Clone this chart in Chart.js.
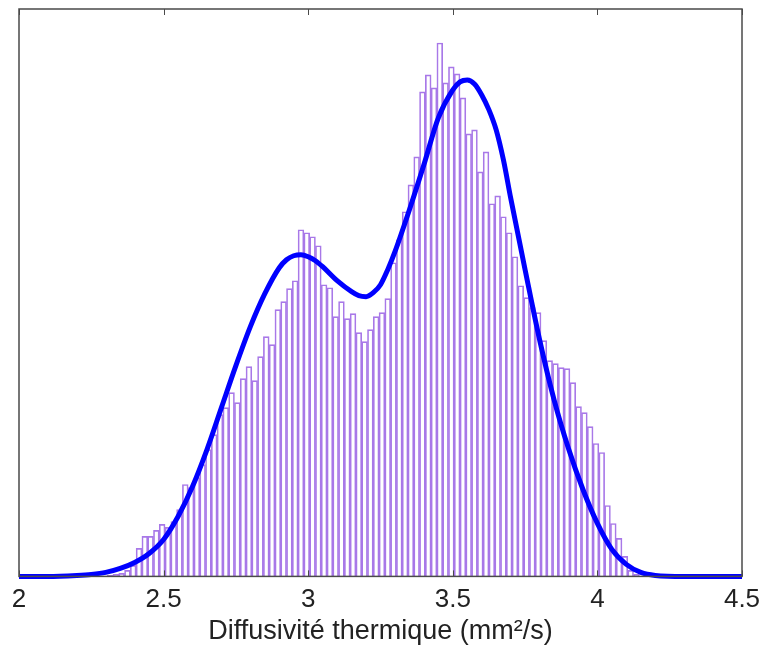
<!DOCTYPE html>
<html>
<head>
<meta charset="utf-8">
<script src="https://cdn.jsdelivr.net/npm/chart.js@4"></script>
<style>
  html, body { margin: 0; padding: 0; background: #fff; }
  #wrap { width: 764px; height: 651px; }
</style>
</head>
<body>
<div id="wrap"><canvas id="histChart"></canvas></div>
<script>
// Histogram bins (centres, mm²/s) and bar heights
const binStart = 2.315
const binWidth = 0.02
const binCounts = [
  1, 2, 3, 6, 11, 28, 40, 40, 46, 52,
  49, 55, 67, 92, 89, 99, 112, 127, 142, 162,
  169, 184, 174, 198, 210, 196, 220, 240, 232, 267,
  275, 288, 296, 347, 344, 340, 331, 292, 289, 260,
  275, 258, 263, 244, 235, 247, 260, 264, 278, 314,
  337, 365, 392, 420, 485, 502, 489, 534, 494, 510,
  503, 479, 443, 447, 405, 425, 373, 381, 360, 344,
  320, 291, 279, 269, 264, 236, 216, 213, 209, 208,
  194, 170, 164, 150, 133, 124, 71, 53, 38, 20,
  6, 2,
]
const binCenters = binCounts.map((_, i) => +(binStart + i * binWidth).toFixed(3))

// Fitted density curve, sampled along x
const curveX = [
  2.0, 2.1, 2.2, 2.25, 2.3, 2.35, 2.4, 2.45, 2.5, 2.55,
  2.6, 2.65, 2.7, 2.75, 2.8, 2.85, 2.9, 2.925, 2.95, 2.975,
  3.0, 3.025, 3.05, 3.1, 3.15, 3.175, 3.2, 3.225, 3.25, 3.275,
  3.3, 3.35, 3.4, 3.45, 3.5, 3.525, 3.55, 3.575, 3.6, 3.625,
  3.65, 3.675, 3.7, 3.75, 3.8, 3.85, 3.9, 3.95, 4.0, 4.05,
  4.1, 4.15, 4.2, 4.3, 4.4, 4.5,
]
const curveY = [
  0, 0, 1, 2, 4, 8, 14, 23, 37, 60,
  90, 127, 169, 211, 250, 283, 309, 317, 321, 322,
  320, 316, 310, 296, 285, 281, 280, 284, 292, 307,
  325, 367, 412, 459, 487, 495, 497, 493, 482, 467,
  447, 417, 379, 307, 237, 177, 128, 87, 53, 27,
  12, 4, 1, 0, 0, 0,
]

// Axis ticks
const xTicks = [2, 2.5, 3, 3.5, 4, 4.5]
const xTitle = "Diffusivité thermique (mm²/s)"

const FONT = "'Liberation Sans', Arial, sans-serif"

// box around the plot and MATLAB-style inward ticks
const framePlugin = {
  id: "frame",
  afterDatasetsDraw(chart) {
    const { ctx, chartArea: a, scales } = chart
    const x = scales.x
    ctx.save()
    ctx.strokeStyle = "#4a4a4a"
    ctx.lineWidth = 1.5
    ctx.strokeRect(a.left, a.top, a.right - a.left, a.bottom - a.top)
    ctx.lineWidth = 1
    ctx.beginPath()
    xTicks.forEach((v) => {
      const px = Math.round(x.getPixelForValue(v)) + 0.5
      ctx.moveTo(px, a.bottom)
      ctx.lineTo(px, a.bottom - 6)
      ctx.moveTo(px, a.top)
      ctx.lineTo(px, a.top + 6)
    })
    ctx.stroke()
    ctx.restore()
  },
}

new Chart(document.getElementById("histChart"), {
  type: "bar",
  data: {
    datasets: [
      {
        type: "line",
        data: curveX.map((v, i) => ({ x: v, y: curveY[i] })),
        borderColor: "#0000ff",
        borderWidth: 5,
        pointRadius: 0,
        cubicInterpolationMode: "monotone",
        fill: false,
        clip: false,
        order: 0,
      },
      {
        type: "bar",
        data: binCenters.map((v, i) => ({ x: v, y: binCounts[i] })),
        backgroundColor: "rgba(255,255,255,0)",
        borderColor: "#a878e8",
        borderWidth: 1,
        barPercentage: 1,
        categoryPercentage: 1,
        order: 1,
      },
    ],
  },
  options: {
    responsive: true,
    maintainAspectRatio: false,
    animation: false,
    layout: {
      padding: { left: 19, right: 22, top: 9, bottom: 0 },
    },
    plugins: {
      legend: { display: false },
      tooltip: { enabled: false },
    },
    scales: {
      x: {
        type: "linear",
        min: 2,
        max: 4.5,
        offset: false,
        afterBuildTicks: (scale) => {
          scale.ticks = xTicks.map((v) => ({ value: v }))
        },
        grid: { display: false },
        border: { display: false },
        ticks: {
          padding: 0,
          maxRotation: 0,
          color: "#222",
          font: { family: FONT, size: 26 },
          callback: (v) => String(v),
        },
        title: {
          display: true,
          text: xTitle,
          color: "#222",
          padding: { top: 0, bottom: 3 },
          font: { family: FONT, size: 27 },
        },
      },
      y: {
        display: false,
        min: 0,
        max: 568,
      },
    },
  },
  plugins: [framePlugin],
})
</script>
</body>
</html>
